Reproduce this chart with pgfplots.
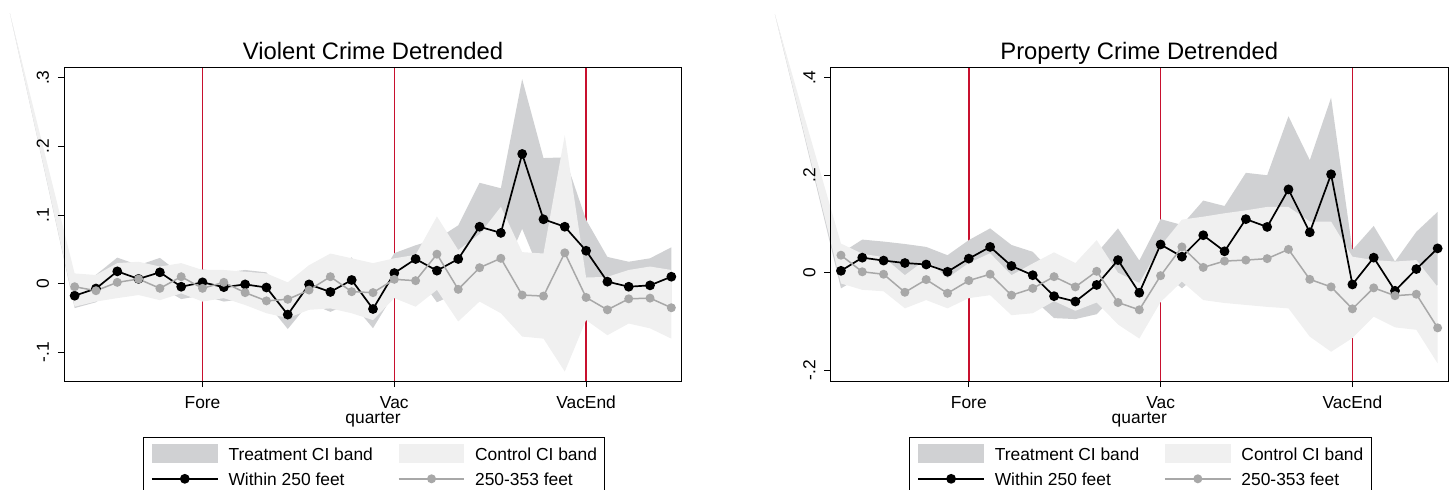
\documentclass[border=0pt]{standalone}
\usepackage{fontspec}
\setmainfont{Liberation Sans}
\usepackage{pgfplots}
\pgfplotsset{compat=1.18}
\usepackage{pgfplotstable}
\usepgfplotslibrary{fillbetween}

\definecolor{tband}{RGB}{208,209,211}
\definecolor{cband}{RGB}{240,240,240}
\definecolor{gline}{RGB}{168,168,168}
\definecolor{vred}{RGB}{200,16,46}

\newcommand\tf{\fontsize{8.7pt}{10pt}\selectfont}
\newcommand\ttf{\fontsize{11.9pt}{14pt}\selectfont}

% x: quarter index; b: within 250 ft; g: 250-353 ft; tu/tl: treatment CI; cu/cl: control CI
\pgfplotstableread{
x b g tu tl cu cl
-3.04 nan nan 0.394 0.394 0.394 0.394
0 -0.0175 -0.0044 0.0005 -0.0355 0.015 -0.0335
1 -0.007 -0.0102 0.013 -0.027 0.0127 -0.026
2 0.018 0.002 0.038 -0.002 0.030 -0.021
3 0.007 0.0068 0.027 -0.013 0.032 -0.0165
4 0.0166 -0.0067 0.0376 -0.0044 0.025 -0.024
5 -0.0044 0.0102 0.0136 -0.0224 0.030 -0.014
6 0.002 -0.0067 0.021 -0.017 0.020 -0.026
7 -0.005 0.002 0.016 -0.026 0.020 -0.021
8 -0.001 -0.013 0.020 -0.022 0.0175 -0.031
9 -0.0055 -0.025 0.0165 -0.0275 0.015 -0.043
10 -0.045 -0.0227 -0.024 -0.066 0.002 -0.050
11 -0.001 -0.0092 0.026 -0.028 0.027 -0.038
12 -0.012 0.0102 0.017 -0.041 0.044 -0.036
13 0.0054 -0.0116 0.0384 -0.0276 0.037 -0.043
14 -0.0368 -0.013 -0.0088 -0.0648 0.030 -0.053
15 0.0155 0.0064 0.0445 -0.0135 0.037 -0.021
16 0.036 0.0044 0.056 0.016 0.042 -0.0335
17 0.019 0.043 0.065 -0.027 0.098 -0.009
18 0.036 -0.0082 0.085 -0.013 0.049 -0.055
19 0.083 0.0233 0.147 0.019 0.072 -0.026
20 0.074 0.037 0.139 0.009 0.112 -0.043
21 0.189 -0.0165 0.298 0.080 0.046 -0.077
22 0.0938 -0.018 0.183 0.005 0.044 -0.080
23 0.083 0.045 0.184 -0.018 0.2165 -0.128
24 0.048 -0.020 0.093 0.003 0.009 -0.053
25 0.003 -0.038 0.039 -0.033 0.010 -0.075
26 -0.0044 -0.022 0.032 -0.040 0.020 -0.058
27 -0.0024 -0.021 0.037 -0.042 0.025 -0.065
28 0.0102 -0.035 0.053 -0.033 0.020 -0.080
}\violent

\pgfplotstableread{
x b g tu tl cu cl
-3.1 nan nan 0.53 0.53 0.53 0.53
0 0.004 0.036 0.040 -0.032 0.060 -0.022
1 0.031 0.002 0.068 -0.006 0.039 -0.035
2 0.025 -0.003 0.064 -0.014 0.032 -0.038
3 0.020 -0.040 0.059 -0.019 -0.005 -0.073
4 0.017 -0.014 0.053 -0.019 0.028 -0.056
5 0.002 -0.042 0.036 -0.032 -0.011 -0.073
6 0.029 -0.016 0.067 -0.009 0.020 -0.052
7 0.053 -0.003 0.091 0.015 0.040 -0.046
8 0.014 -0.046 0.057 -0.029 -0.005 -0.087
9 -0.005 -0.032 0.043 -0.053 0.019 -0.083
10 -0.048 -0.008 -0.003 -0.093 0.042 -0.058
11 -0.059 -0.029 -0.023 -0.095 0.020 -0.078
12 -0.025 0.003 0.040 -0.085 0.067 -0.061
13 0.026 -0.061 0.091 -0.039 0.000 -0.106
14 -0.041 -0.076 0.025 -0.107 -0.021 -0.135
15 0.058 -0.006 0.110 0.006 0.055 -0.060
16 0.033 0.053 0.098 -0.032 0.109 -0.018
17 0.077 0.011 0.148 0.006 0.115 -0.056
18 0.044 0.024 0.137 -0.049 0.122 -0.062
19 0.110 0.026 0.205 0.015 0.128 -0.066
20 0.094 0.029 0.200 -0.012 0.135 -0.070
21 0.171 0.048 0.321 0.021 0.135 -0.073
22 0.083 -0.0135 0.231 -0.065 0.105 -0.131
23 0.202 -0.029 0.359 0.045 0.105 -0.162
24 -0.024 -0.074 0.047 -0.095 0.033 -0.134
25 0.031 -0.031 0.096 -0.034 0.026 -0.090
26 -0.037 -0.047 0.023 -0.097 0.023 -0.112
27 0.0076 -0.044 0.084 -0.069 0.026 -0.117
28 0.050 -0.113 0.125 -0.025 -0.029 -0.186
}\property

\pgfplotsset{
  panel/.style={
    scale only axis, width=309pt, height=157pt,
    anchor=north west,
    xmin=-0.5, xmax=28.5,
    clip=false, set layers, axis on top,
    axis line style={line width=0.5pt, black},
    tick pos=left, tick align=outside, major tick length=3pt,
    tick style={black, line width=0.5pt},
    xtick={6,15,24}, xticklabels={Fore,Vac,VacEnd},
    tick label style={font=\tf},
    xticklabel style={anchor=base, yshift=-10.65pt},
    yticklabel style={xshift=-4.5pt, rotate=90, anchor=base},
    xlabel={quarter},
    xlabel style={font=\tf, at={(axis description cs:0.5,0)}, anchor=base, yshift=-21pt},
    every axis title/.style={at={(axis description cs:0.5,1)}, anchor=base, yshift=3.85pt, font=\ttf},
    legend columns=2,
    legend cell align=left,
    legend style={at={(axis description cs:0.1277,-0.1774)}, anchor=north west,
      draw=black, line width=0.5pt, fill=white,
      inner xsep=3.85pt, inner ysep=2.05pt, font=\tf,
      nodes={inner sep=0pt, text height=7pt, text depth=0pt},
      column sep=0pt, row sep=0pt,
      /tikz/every odd column/.append style={column sep=5pt},
      /tikz/column 2/.append style={column sep=12.5pt}},
  },
  bandleg/.style={legend image code/.code={
      \path[draw=none, fill=none] (0pt,-6.25pt) rectangle (32.85pt,6.25pt);
      \fill (0pt,-4.675pt) rectangle (32.85pt,4.675pt);}},
  lineleg/.style={legend image code/.code={
      \path[draw=none, fill=none] (0pt,-6.25pt) rectangle (32.85pt,6.25pt);
      \draw[mark repeat=2,mark phase=2] plot coordinates {(0pt,0pt) (16.425pt,0pt) (32.85pt,0pt)};}},
  redline/.style={vred, line width=0.7pt, forget plot, on layer=axis background},
  blk/.style={black, line width=0.85pt, mark=*, mark size=2pt, mark options={solid, fill=black}, lineleg},
  gry/.style={gline, line width=0.75pt, mark=*, mark size=1.85pt, mark options={solid, fill=gline, draw=gline}, lineleg},
}

\begin{document}
\begin{tikzpicture}
\begin{axis}[panel, at={(32pt,-33.5pt)},
  ymin=-0.1417, ymax=0.3156,
  ytick={-0.1,0,0.1,0.2,0.3}, yticklabels={-.1,0,.1,.2,.3},
  title={Violent Crime Detrended}]
  \addplot[redline] coordinates {(6,-0.1417) (6,0.3156)};
  \addplot[redline] coordinates {(15,-0.1417) (15,0.3156)};
  \addplot[redline] coordinates {(24,-0.1417) (24,0.3156)};
  \addplot[name path=VTU, draw=none, forget plot] table[x=x, y=tu] {\violent};
  \addplot[name path=VTL, draw=none, forget plot] table[x=x, y=tl] {\violent};
  \addplot[name path=VCU, draw=none, forget plot] table[x=x, y=cu] {\violent};
  \addplot[name path=VCL, draw=none, forget plot] table[x=x, y=cl] {\violent};
  \addplot[fill=tband, draw=none, bandleg] fill between[of=VTU and VTL];
  \addlegendentry{Treatment CI band}
  \addplot[fill=cband, draw=none, bandleg] fill between[of=VCU and VCL];
  \addlegendentry{Control CI band}
  \addplot[blk] table[x=x, y=b] {\violent};
  \addlegendentry{Within 250 feet}
  \addplot[gry] table[x=x, y=g] {\violent};
  \addlegendentry{250-353 feet}
\end{axis}
\begin{axis}[panel, at={(415.15pt,-33.5pt)},
  ymin=-0.222, ymax=0.422,
  ytick={-0.2,0,0.2,0.4}, yticklabels={-.2,0,.2,.4},
  title={Property Crime Detrended}]
  \addplot[redline] coordinates {(6,-0.222) (6,0.422)};
  \addplot[redline] coordinates {(15,-0.222) (15,0.422)};
  \addplot[redline] coordinates {(24,-0.222) (24,0.422)};
  \addplot[name path=PTU, draw=none, forget plot] table[x=x, y=tu] {\property};
  \addplot[name path=PTL, draw=none, forget plot] table[x=x, y=tl] {\property};
  \addplot[name path=PCU, draw=none, forget plot] table[x=x, y=cu] {\property};
  \addplot[name path=PCL, draw=none, forget plot] table[x=x, y=cl] {\property};
  \addplot[fill=tband, draw=none, bandleg] fill between[of=PTU and PTL];
  \addlegendentry{Treatment CI band}
  \addplot[fill=cband, draw=none, bandleg] fill between[of=PCU and PCL];
  \addlegendentry{Control CI band}
  \addplot[blk] table[x=x, y=b] {\property};
  \addlegendentry{Within 250 feet}
  \addplot[gry] table[x=x, y=g] {\property};
  \addlegendentry{250-353 feet}
\end{axis}
\pgfresetboundingbox
\path[use as bounding box] (0pt,0pt) rectangle (726.5pt,-244.5pt);
\end{tikzpicture}
\end{document}
